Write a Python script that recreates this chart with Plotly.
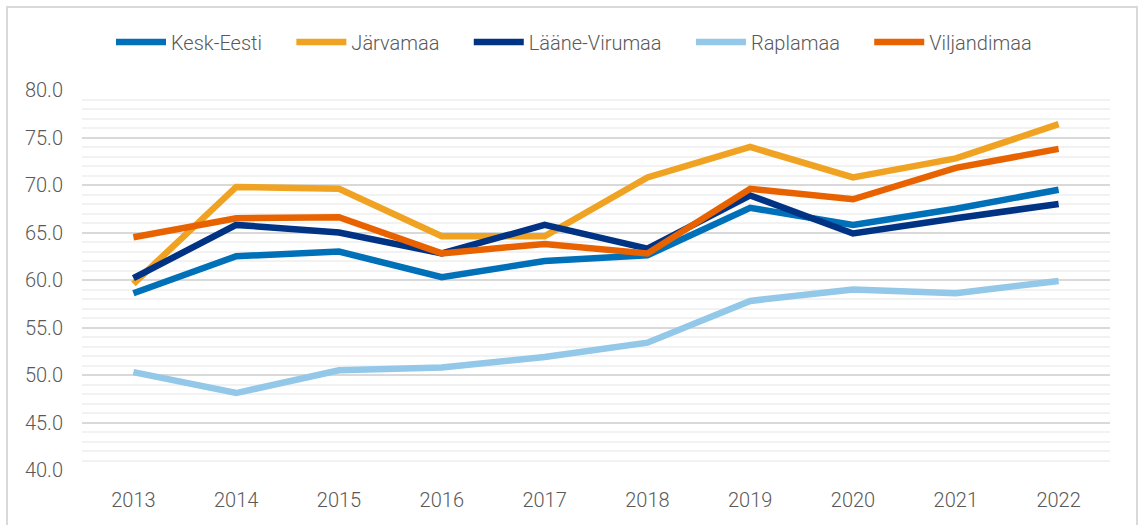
import plotly.graph_objects as go

years = ["2013", "2014", "2015", "2016", "2017", "2018", "2019", "2020", "2021", "2022"]
kesk_eesti = [58.6, 62.5, 63.0, 60.3, 62.0, 62.6, 67.6, 65.8, 67.5, 69.5]
jarvamaa = [59.6, 69.8, 69.6, 64.6, 64.6, 70.8, 74.0, 70.8, 72.8, 76.4]
laane_virumaa = [60.2, 65.8, 65.0, 62.8, 65.8, 63.3, 68.9, 64.9, 66.5, 68.0]
raplamaa = [50.3, 48.1, 50.5, 50.8, 51.9, 53.4, 57.8, 59.0, 58.6, 59.9]
viljandimaa = [64.5, 66.5, 66.6, 62.8, 63.8, 62.8, 69.6, 68.5, 71.8, 73.8]

series = [
    ("Kesk-Eesti", kesk_eesti, "#0070B8"),
    ("Järvamaa", jarvamaa, "#F0A323"),
    ("Lääne-Virumaa", laane_virumaa, "#003383"),
    ("Raplamaa", raplamaa, "#93C8E8"),
    ("Viljandimaa", viljandimaa, "#E86300"),
]

GAP = "\u00a0" * 5
fig = go.Figure()
for i, (name, vals, col) in enumerate(series):
    label = name + (GAP if i < len(series) - 1 else "")
    fig.add_trace(go.Scatter(x=years, y=vals, name=label, mode="lines",
                             line=dict(color=col, width=6.5)))

W, H = 1139, 525
L, R, T, B = 82, 29, 90, 55
pw, ph = W - L - R, H - T - B

def px_x(p):
    return (p - L) / pw

def px_y(p):
    return (H - B - p) / ph

fig.update_layout(
    width=W, height=H,
    margin=dict(l=L, r=R, t=T, b=B),
    paper_bgcolor="white", plot_bgcolor="white",
    font=dict(family="Roboto", size=20, color="#595959", weight=300),
    showlegend=True,
    legend=dict(orientation="h", x=px_x(574), xanchor="center",
                y=px_y(42), yanchor="middle", itemwidth=50,
                font=dict(size=20, color="#595959", family="Roboto", weight=300),
                traceorder="normal", itemclick=False),
    xaxis=dict(type="category", range=[-0.5, 9.5], showgrid=False, zeroline=False,
               showline=False, ticks="", ticklabelstandoff=16, automargin=False),
    yaxis=dict(range=[40, 80], dtick=5, tickformat=".1f", showgrid=True,
               gridcolor="#D9D9D9", gridwidth=1.5, zeroline=False, showline=False,
               ticks="", ticklabelstandoff=18, automargin=False,
               minor=dict(dtick=1, showgrid=True, gridcolor="#F2F2F2", gridwidth=1.5)),
    shapes=[dict(type="rect", xref="paper", yref="paper",
                 x0=px_x(7), x1=px_x(1137), y0=px_y(540), y1=px_y(7),
                 line=dict(color="#D9D9D9", width=2), layer="below")],
)

fig.write_html("out.html", config={"displayModeBar": False},
               post_script="document.body.style.margin='0';")
